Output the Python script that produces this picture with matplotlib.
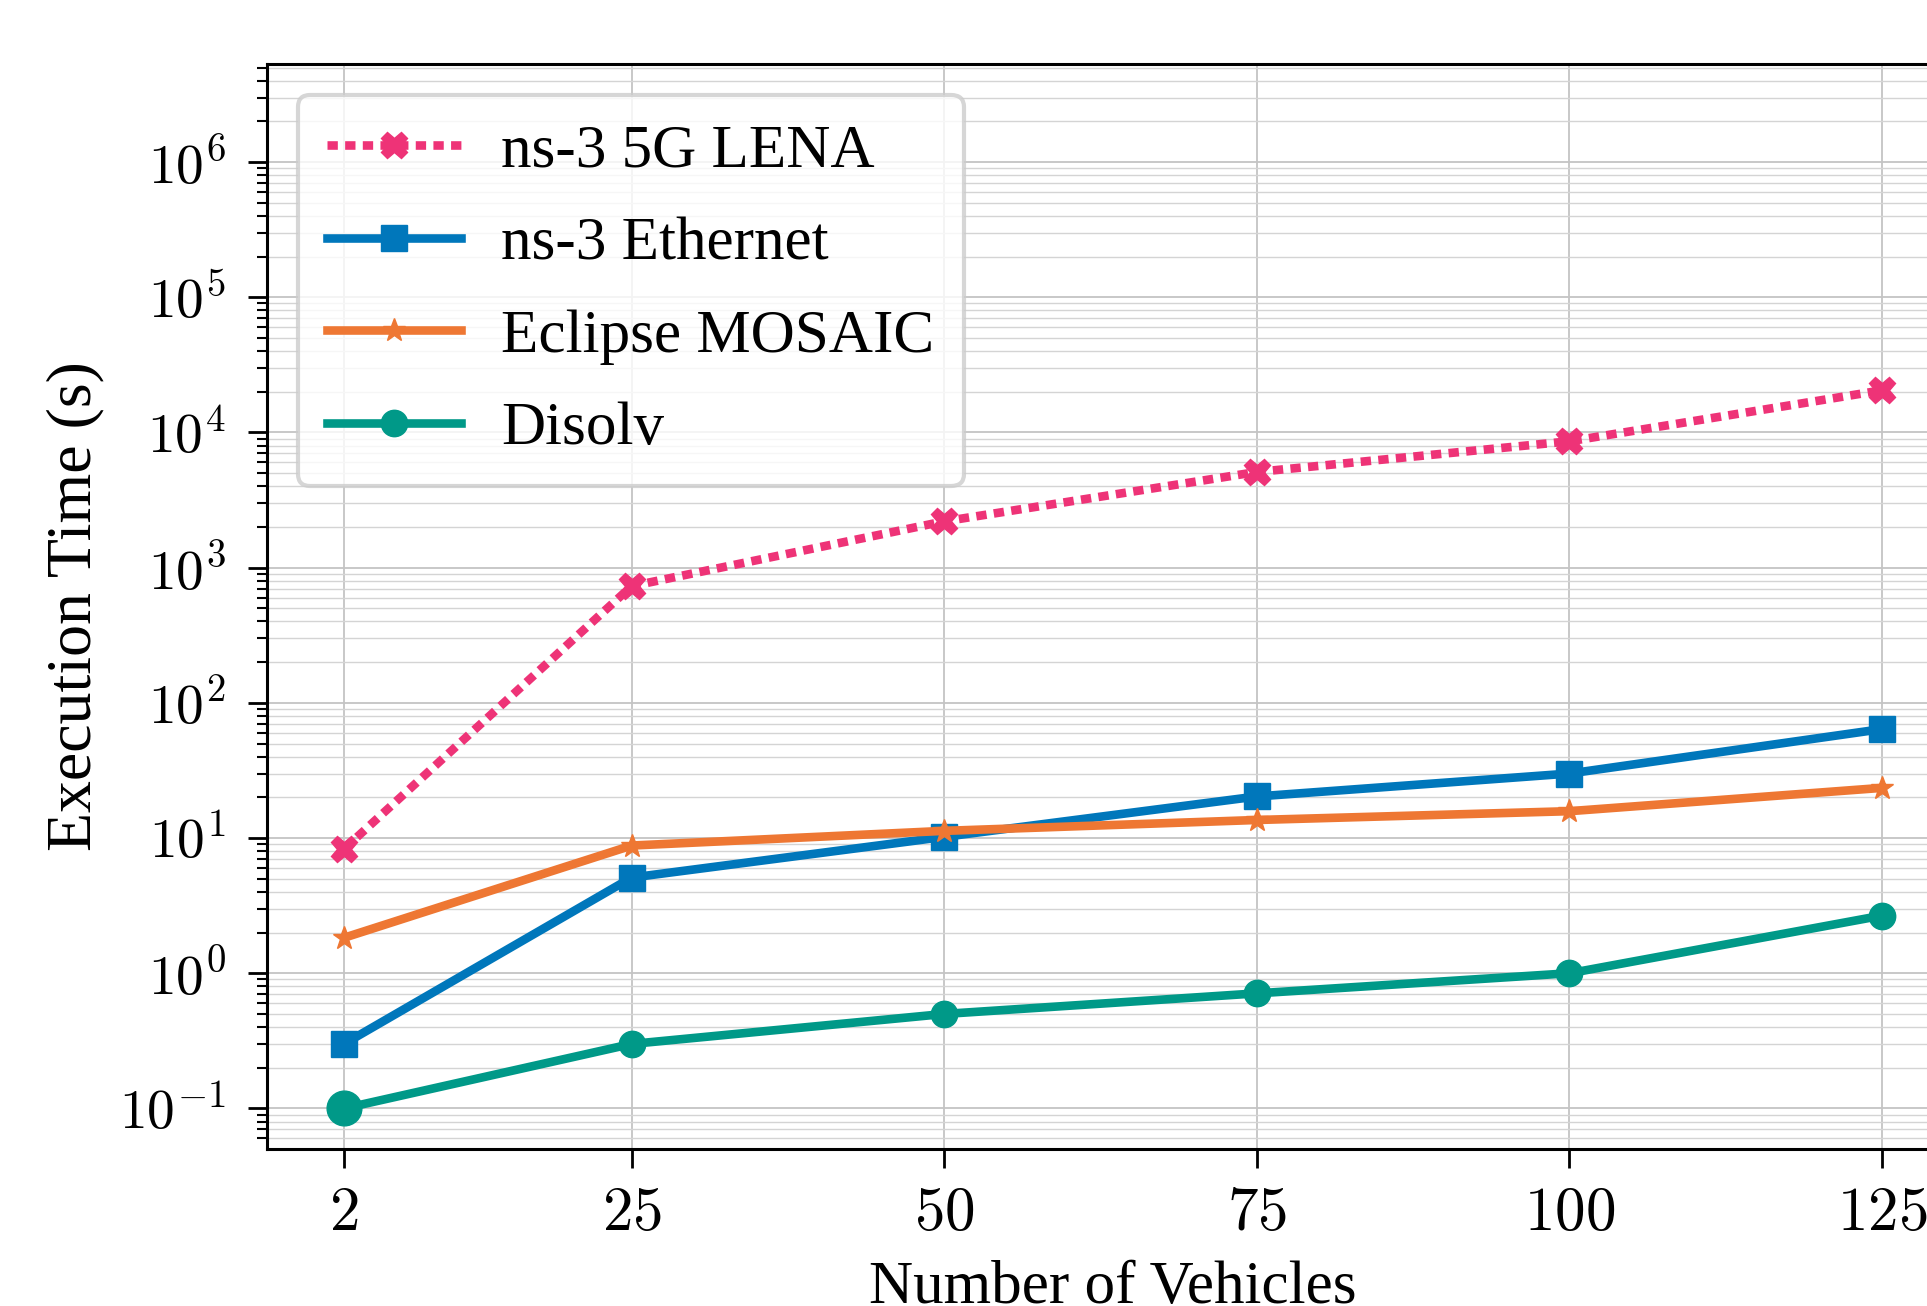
import matplotlib
matplotlib.use('Agg')
import matplotlib.pyplot as plt
from matplotlib.ticker import FuncFormatter, LogLocator
import numpy as np

# Execution time vs. number of vehicles
vehicles = [2, 25, 50, 75, 100, 125]
lena = [8.3, 730, 2200, 5100, 8600, 20500]
ethernet = [0.30, 5.1, 10.2, 20.3, 30.0, 64]
mosaic = [1.83, 8.8, 11.3, 13.6, 15.8, 23.5]
disolv = [0.10, 0.30, 0.50, 0.71, 1.0, 2.67]

labels = ['ns-3 5G LENA', 'ns-3 Ethernet', 'Eclipse MOSAIC', 'Disolv']

plt.rcParams['font.family'] = ['Liberation Serif', 'DejaVu Serif']
plt.rcParams['mathtext.fontset'] = 'cm'
plt.rcParams['font.size'] = 44

fig = plt.figure(figsize=(19.27, 13.06), dpi=100)
ax = fig.add_axes([0.1386, 0.1202, 0.878, 0.8308])

lw = 6.2
ax.plot(vehicles, lena, color='#EE3377', linestyle=(0, (1.2, 0.85)), lw=lw,
        marker='X', markersize=19, label=labels[0], zorder=3)
ax.plot(vehicles, ethernet, color='#0077BB', lw=lw, marker='s',
        markersize=19, label=labels[1], zorder=3)
ax.plot(vehicles, mosaic, color='#EE7733', lw=lw, marker='*',
        markersize=17, label=labels[2], zorder=3)
ax.plot(vehicles, disolv, color='#009988', lw=lw, marker='o',
        markersize=19, label=labels[3], zorder=3)
# first Disolv point is drawn bigger in the original
ax.plot(vehicles[0], disolv[0], color='#009988', marker='o', markersize=25,
        linestyle='none', zorder=3)

ax.set_yscale('log')
ax.set_ylim(10 ** -1.3, 10 ** 6.725)
ax.set_xlim(-4.15, 131.15)
ax.set_xticks(vehicles, [f'${v}$' for v in vehicles])
ax.yaxis.set_major_locator(LogLocator(base=10, numticks=20))
ax.yaxis.set_major_formatter(FuncFormatter(lambda v, p: r'$10^{%d}$' % round(np.log10(v))))

ax.set_xlabel('Number of Vehicles', labelpad=12)
ax.set_ylabel('Execution Time (s)', labelpad=10, fontsize=46)

ax.tick_params(which='major', length=14, width=2, pad=14)
ax.tick_params(axis='y', which='major', pad=16, labelsize=40)
ax.tick_params(which='minor', length=7, width=1.5)
ax.tick_params(axis='x', which='minor', bottom=False)
for s in ax.spines.values():
    s.set_linewidth(2.2)

ax.grid(True, which='major', color='#c4c4c4', lw=1.3)
ax.grid(True, which='minor', axis='y', color='#d4d4d4', lw=1.0)
ax.set_axisbelow(True)

leg = ax.legend(loc='upper left', handlelength=2.2, borderpad=0.48,
                labelspacing=0.6, handletextpad=0.65, framealpha=0.8,
                edgecolor='#cccccc', fancybox=True)
leg.get_frame().set_linewidth(3)

plt.savefig('out.png', dpi=100)
